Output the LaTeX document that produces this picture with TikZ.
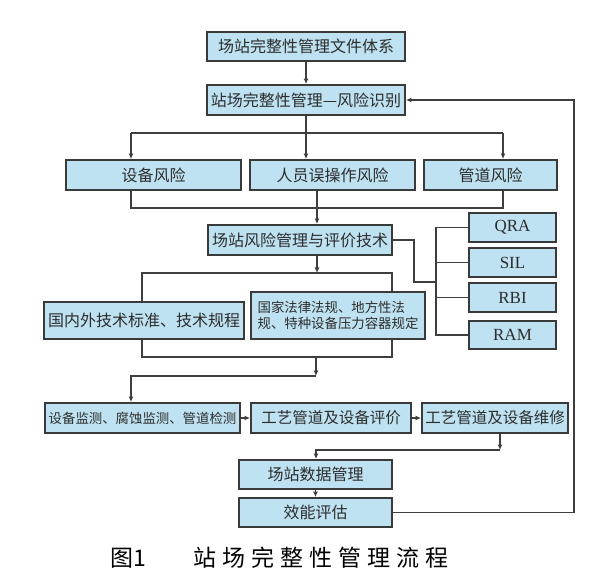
\documentclass[tikz,border=0pt]{standalone}
\usepackage{fontspec}
\usetikzlibrary{arrows.meta}
\newfontfamily\cjk{Noto Sans CJK SC}
\newfontfamily\latinserif{Liberation Serif}
\definecolor{boxfill}{RGB}{190,226,241}
\definecolor{boxline}{RGB}{58,58,58}
\definecolor{conn}{RGB}{62,62,62}
\definecolor{txt}{RGB}{45,45,45}
\begin{document}
\begin{tikzpicture}[x=1pt,y=-1pt,
  box/.style={draw=boxline,line width=1.8pt,fill=boxfill,inner sep=1pt,text=txt,
    font=\cjk\fontsize{16}{18}\selectfont},
  midbox/.style={box,font=\cjk\fontsize{15.5}{17.5}\selectfont},
  smallbox/.style={box,font=\cjk\fontsize{13.4}{16}\selectfont},
  latinbox/.style={box,font=\latinserif\fontsize{17}{19}\selectfont},
  ln/.style={draw=conn,line width=1.3pt},
  arr/.style={ln,-{Latex[length=5.5pt,width=5pt]}}]
\useasboundingbox (0,0) rectangle (594,577);

% boxes
\node[box,minimum width=198pt,minimum height=29pt] (b1) at (306,46.5) {场站完整性管理文件体系};
\node[box,minimum width=198pt,minimum height=30pt] (b2) at (306,100) {站场完整性管理—风险识别};
\node[box,minimum width=175pt,minimum height=30pt] (r1) at (153.5,175) {设备风险};
\node[box,minimum width=165pt,minimum height=30pt] (r2) at (332.5,175) {人员误操作风险};
\node[box,minimum width=133pt,minimum height=30pt] (r3) at (490.5,175) {管道风险};
\node[box,minimum width=184pt,minimum height=30pt] (t) at (300,240) {场站风险管理与评价技术};
\node[latinbox,minimum width=87pt,minimum height=29pt] (q1) at (512.5,227.5) {QRA};
\node[latinbox,minimum width=87pt,minimum height=29pt] (q2) at (512.5,262.5) {SIL};
\node[latinbox,minimum width=87pt,minimum height=29pt] (q3) at (512.5,297.5) {RBI};
\node[latinbox,minimum width=87pt,minimum height=28pt] (q4) at (512.5,335) {RAM};
\node[box,minimum width=200pt,minimum height=37pt] (L) at (144,320.5) {国内外技术标准、技术规程};
\node[smallbox,minimum width=174pt,minimum height=47pt,align=left] (R) at (338,315.5) {国家法律法规、地方性法\\规、特种设备压力容器规定};
\node[smallbox,minimum width=195pt,minimum height=30pt] (A) at (142.5,418) {设备监测、腐蚀监测、管道检测};
\node[midbox,minimum width=160pt,minimum height=30pt] (B) at (331,418) {工艺管道及设备评价};
\node[midbox,minimum width=146pt,minimum height=30pt] (C) at (495,418) {工艺管道及设备维修};
\node[box,minimum width=153pt,minimum height=29pt] (D) at (315.5,474.5) {场站数据管理};
\node[box,minimum width=153pt,minimum height=29pt] (E) at (315.5,512.5) {效能评估};

% caption
\node[anchor=west,inner sep=0pt,text=black,font=\cjk\fontsize{23}{26}\selectfont] (cap1) at (110,558) {图1};
\node[anchor=west,inner sep=0pt,text=black,font=\cjk\fontsize{23}{26}\selectfont] (cap2) at (193,558) {站\hspace{6pt}场\hspace{6pt}完\hspace{6pt}整\hspace{6pt}性\hspace{6pt}管\hspace{6pt}理\hspace{6pt}流\hspace{6pt}程};

% junction coordinates
\coordinate (j1) at (306,133);
\coordinate (jl) at (131,133);
\coordinate (jr) at (503,133);
\coordinate (ml) at (131,208);
\coordinate (mm) at (317,208);
\coordinate (mr) at (503,208);
\coordinate (k) at (317,273);
\coordinate (kl) at (142,273);
\coordinate (kr) at (392,273);
\coordinate (nl) at (142,357);
\coordinate (nm) at (316,357);
\coordinate (nr) at (392,357);
\coordinate (p) at (316,376);
\coordinate (p2) at (131,376);
\coordinate (s) at (500,450);
\coordinate (s2) at (316,450);
\coordinate (f1) at (574,512.5);
\coordinate (f2) at (574,100);
\coordinate (bus) at (436,0);
\coordinate (c1) at (414,240);
\coordinate (c2) at (414,282);
\coordinate (c3) at (436,282);

% connectors
\draw[arr] (b1) -- (b2);
\draw[ln] (b2.south) -- (j1);
\draw[ln] (jl) -- (jr);
\draw[arr] (jl) -- (jl |- r1.north);
\draw[arr] (j1) -- (j1 |- r2.north);
\draw[arr] (jr) -- (jr |- r3.north);
\draw[ln] (r1.south -| ml) -- (ml) -- (mr) -- (r3.south -| mr);
\draw[ln] (r2.south -| mm) -- (mm);
\draw[arr] (mm) -- (mm |- t.north);
\draw[arr] (t.south -| k) -- (k);
\draw[ln] (L.north -| kl) -- (kl) -- (kr) -- (R.north -| kr);
\draw[ln] (L.south -| nl) -- (nl) -- (nr) -- (R.south -| nr);
\draw[arr] (nm) -- (p);
\draw[arr] (p) -- (p2) -- (p2 |- A.north);
\draw[arr] (A) -- (B);
\draw[arr] (B) -- (C);
\draw[arr] (C.south -| s) -- (s);
\draw[arr] (s) -- (s2) -- (s2 |- D.north);
\draw[arr] (D) -- (E);
\draw[arr] (E.east) -- (f1) -- (f2) -- (b2.east);
\draw[ln] (t.east) -- (c1) -- (c2) -- (c3);
\draw[ln] (q1.west) -- (q1.west -| bus) -- (q4.west -| bus) -- (q4.west);
\draw[ln] (q2.west) -- (q2.west -| bus);
\draw[ln] (q3.west) -- (q3.west -| bus);
\end{tikzpicture}
\end{document}
